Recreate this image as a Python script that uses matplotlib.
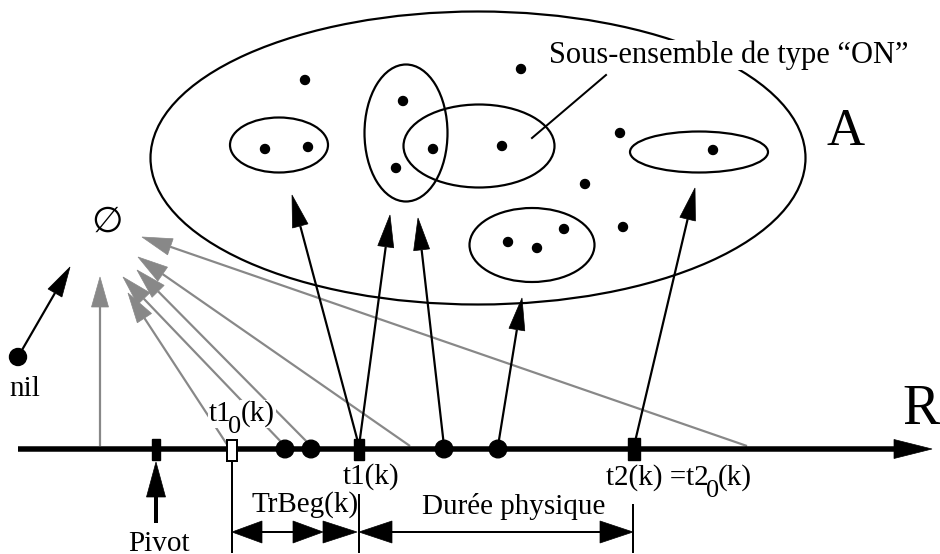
import numpy as np
import matplotlib
matplotlib.use("Agg")
import matplotlib.pyplot as plt
from matplotlib.patches import Ellipse, Rectangle, Circle, Polygon

W, H = 940, 554
PX = 0.72  # points per pixel at dpi 100
SERIF = ['Liberation Serif', 'DejaVu Serif']

# ---------------- data (pixel space of the diagram) ----------------
axis_y = 449
axis_x = [18, 932]

# big set A
setA_center = (478, 158)
setA_size = (655, 293)

# sub-sets (center x, center y, width, height)
sub_cx = [279, 406, 479, 699, 532]
sub_cy = [145, 133, 146, 152, 245]
sub_w = [98, 83, 151, 138, 125]
sub_h = [55, 137, 83, 41, 74]

# elements of A
elem_x = [265, 308, 403, 396, 433, 502, 713, 508, 537, 564, 305, 521, 620, 585, 623]
elem_y = [149, 147, 101, 168, 149, 146, 150, 242, 248, 229, 80, 69, 133, 184, 227]

# instants on the real axis
dot_x = [285, 311, 444, 498]
pivot_x = 156
t10_x = 232
t1_x = 359
t2_x = 634

# gray arrows towards the empty set (start x on axis, tip x, tip y)
gray_start_x = [100, 228, 285, 311, 410, 747]
gray_tip_x = [100, 128, 123, 137, 138, 142]
gray_tip_y = [277, 293, 277, 270, 257, 237]

# black arrows towards subsets (start x on axis, tip x, tip y)
black_start_x = [359, 359, 444, 498, 634]
black_tip_x = [292, 390, 418, 522, 695]
black_tip_y = [195, 215, 218, 298, 188]

# nil
nil_xy = (18, 357)
nil_tip = (70, 267)

# ---------------- figure ----------------
fig = plt.figure(figsize=(W / 100, H / 100), dpi=100)
ax = fig.add_axes([0, 0, 1, 1])
ax.set_xlim(0, W)
ax.set_ylim(H, 0)
ax.axis('off')

WHITE = dict(facecolor='white', edgecolor='none', pad=0.5)


def arrow(x0, y0, x1, y1, color='black', lw=2.0, hl=30, hw=16, z=3):
    d = np.array([x1 - x0, y1 - y0], float)
    L = np.hypot(*d)
    u = d / L
    p = np.array([-u[1], u[0]])
    tip = np.array([x1, y1], float)
    base = tip - u * hl
    ax.plot([x0, base[0]], [y0, base[1]], color=color, lw=lw * PX,
            solid_capstyle='butt', zorder=z)
    ax.add_patch(Polygon([tip, base + p * hw / 2, base - p * hw / 2],
                         closed=True, facecolor=color, edgecolor=color,
                         lw=0.5, zorder=z))


# set A and subsets
ax.add_patch(Ellipse(setA_center, setA_size[0], setA_size[1], fill=False,
                     lw=2.2 * PX, ec='black'))
for cx, cy, w, h in zip(sub_cx, sub_cy, sub_w, sub_h):
    ax.add_patch(Ellipse((cx, cy), w, h, fill=False, lw=2.2 * PX, ec='black'))
for x, y in zip(elem_x, elem_y):
    ax.add_patch(Circle((x, y), 4.5, color='black'))

# leader line of label
ax.plot([606, 532], [75, 138], color='black', lw=2 * PX)
ax.text(729, 55, 'Sous-ensemble de type \u201cON\u201d', family=SERIF,
        fontsize=22, ha='center', va='center', bbox=WHITE, zorder=6)
ax.text(846, 132, 'A', family=SERIF, fontsize=38, ha='center', va='center')

# gray arrows
for sx, tx, ty in zip(gray_start_x, gray_tip_x, gray_tip_y):
    arrow(sx, axis_y - 3, tx, ty, color='#888888', lw=2.2, hl=30, hw=17, z=2)

# black arrows
for sx, tx, ty in zip(black_start_x, black_tip_x, black_tip_y):
    arrow(sx, axis_y - 3, tx, ty, color='black', lw=2.2, hl=32, hw=16, z=3)

# nil
ax.add_patch(Circle(nil_xy, 8.5, color='black', zorder=4))
arrow(nil_xy[0] + 4, nil_xy[1] - 7, nil_tip[0], nil_tip[1], lw=2.2, hl=30, hw=16)
ax.text(25, 389, 'nil', family=SERIF, fontsize=21, ha='center', va='center')
ax.text(107, 222, '\u2205', family=['DejaVu Sans'], fontsize=26,
        ha='center', va='center')

# real axis
arrow(axis_x[0], axis_y, axis_x[1], axis_y, lw=5.5, hl=38, hw=19, z=4)
ax.text(921, 410, 'R', family=SERIF, fontsize=40, ha='center', va='center')

# instants
for x in dot_x:
    ax.add_patch(Circle((x, axis_y), 8.8, color='black', zorder=5))
ax.add_patch(Rectangle((pivot_x - 4, 439), 8, 21, color='black', zorder=5))
ax.add_patch(Rectangle((t10_x - 5, 440), 10, 21, fc='white', ec='black',
                       lw=2 * PX, zorder=5))
ax.add_patch(Rectangle((t1_x - 5, 439), 10, 21, color='black', zorder=5))
ax.add_patch(Rectangle((t2_x - 6, 438), 12, 22, color='black', zorder=5))

# pivot arrow
arrow(pivot_x, 523, pivot_x, 462, lw=4, hl=35, hw=19)
ax.text(159, 544, 'Pivot', family=SERIF, fontsize=21, ha='center', va='center')

# labels of instants
FS = 21
ax.text(209, 421, 't1', family=SERIF, fontsize=FS, ha='left', va='baseline',
        bbox=WHITE, zorder=6)
ax.text(235, 433, '0', family=SERIF, fontsize=19, ha='center', va='baseline',
        zorder=7)
ax.text(241, 421, '(k)', family=SERIF, fontsize=FS, ha='left', va='baseline',
        bbox=WHITE, zorder=6)
ax.text(371, 484, 't1(k)', family=SERIF, fontsize=FS, ha='center', va='baseline')
ax.text(606, 485, 't2(k) =t2', family=SERIF, fontsize=FS, ha='left', va='baseline')
ax.text(713, 497, '0', family=SERIF, fontsize=19, ha='center', va='baseline')
ax.text(718, 485, '(k)', family=SERIF, fontsize=FS, ha='left', va='baseline')

# dimension lines
for x, y0 in [(232, 463), (359, 495), (633, 505)]:
    ax.plot([x, x], [y0, 552], color='black', lw=2 * PX)
dim_y = 532
arrow(262, dim_y, 232, dim_y, lw=2, hl=30, hw=22)
arrow(262, dim_y, 323, dim_y, lw=2, hl=30, hw=22)
arrow(323, dim_y, 357, dim_y, lw=2, hl=34, hw=22)
arrow(600, dim_y, 359, dim_y, lw=2, hl=33, hw=22)
arrow(392, dim_y, 633, dim_y, lw=2, hl=33, hw=22)
ax.text(305, 512, 'TrBeg(k)', family=SERIF, fontsize=FS, ha='center', va='baseline')
ax.text(514, 514, 'Dur\u00e9e physique', family=SERIF, fontsize=FS,
        ha='center', va='baseline')

fig.savefig('out.png', dpi=100)
